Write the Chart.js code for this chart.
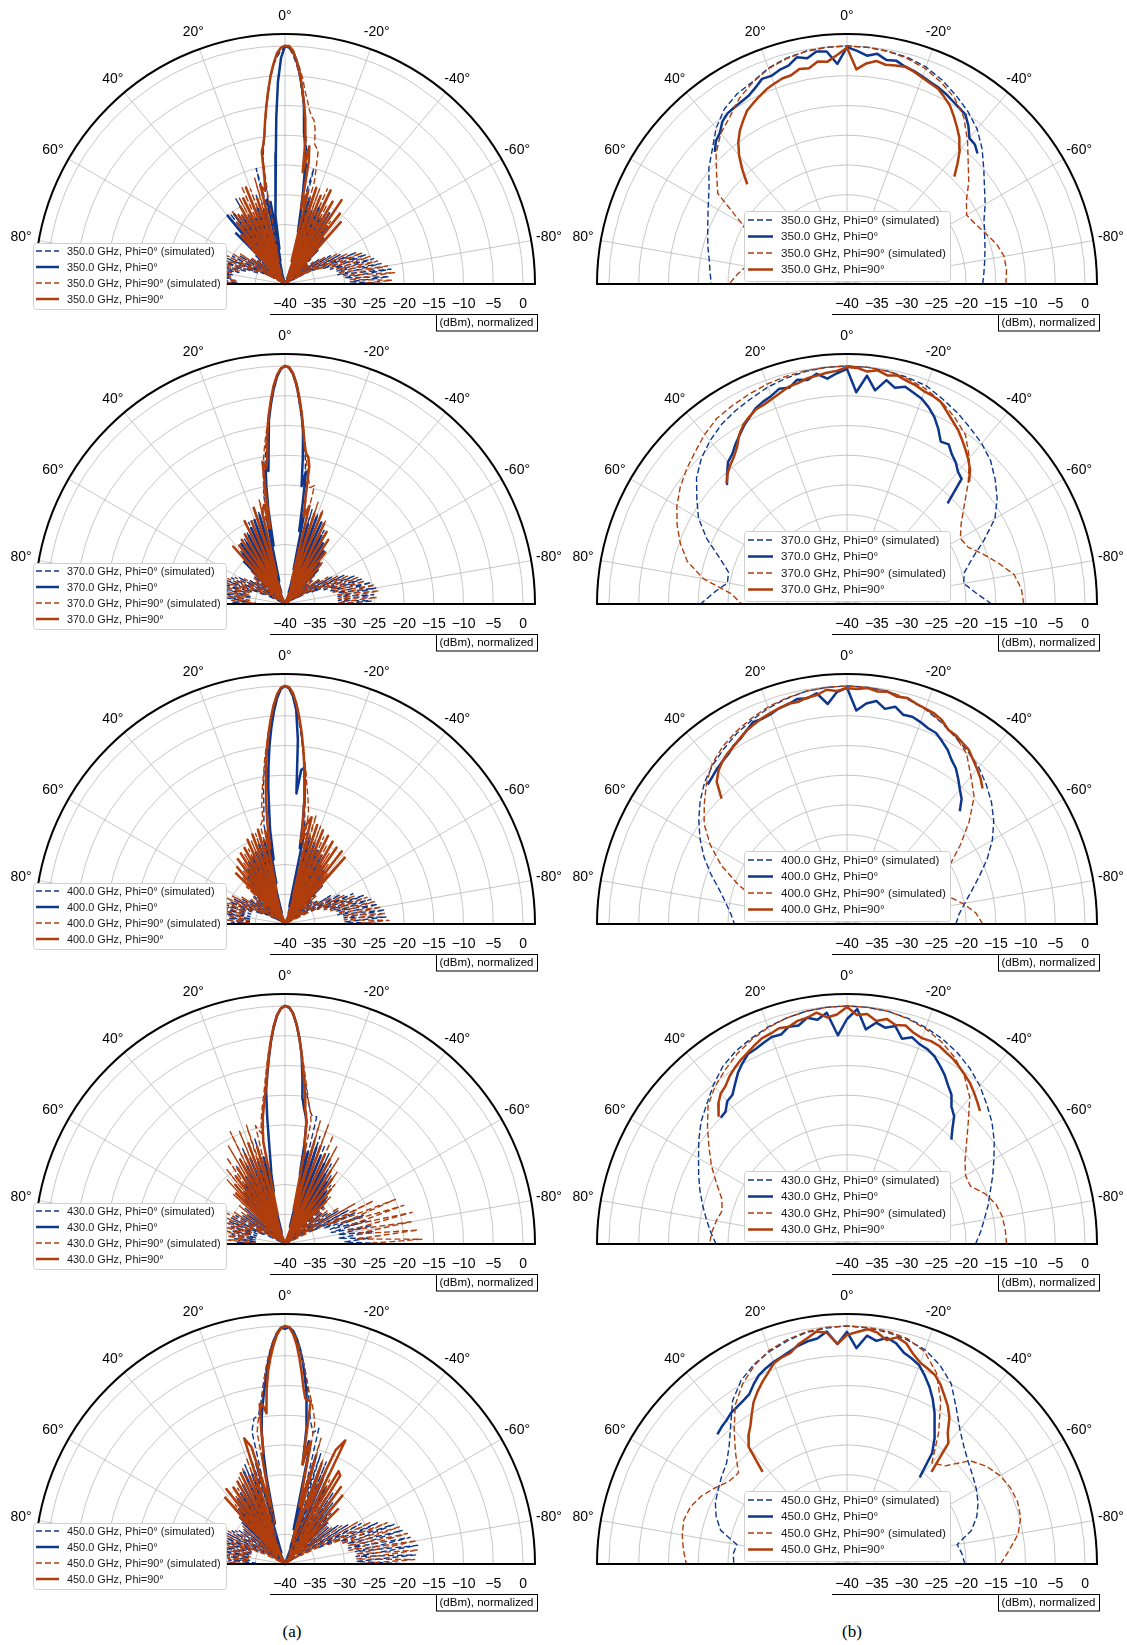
<!DOCTYPE html>
<html>
<head>
<meta charset="utf-8">
<script src="https://cdn.jsdelivr.net/npm/chart.js@4.4.1/dist/chart.umd.min.js"></script>
<style>
  html, body { margin: 0; padding: 0; background: #fff; }
  body { width: 1127px; height: 1645px; position: relative; overflow: hidden; }
  canvas.polar { position: absolute; }
  .cap { position: absolute; font-family: "Liberation Serif", "Times New Roman", serif; font-size: 17px; color: #000; transform: translate(-50%, -50%); }
</style>
</head>
<body>
<div class="cap" style="left:292px;top:1632px">(a)</div>
<div class="cap" style="left:852px;top:1632px">(b)</div>
<script>
// ---------- axes / labels ----------
const FREQS = [350, 370, 400, 430, 450];
const RADIAL_TICKS = [-40, -35, -30, -25, -20, -15, -10, -5, 0];
const RADIAL_TICK_LABELS = ['\u221240', '\u221235', '\u221230', '\u221225', '\u221220', '\u221215', '\u221210', '\u22125', '0'];
const RING_DB = [-35, -30, -25, -20, -15, -10, -5, 0];
const THETA_TICKS = [80, 60, 40, 20, 0, -20, -40, -60, -80];
const THETA_LABELS = ['80°', '60°', '40°', '20°', '0°', '-20°', '-40°', '-60°', '-80°'];
const R_MIN = -40;   // dB at the centre
const R_MAX = 2;     // dB at the outer frame
const AXIS_NAME = '(dBm), normalized';

// ---------- sample angles (deg) ----------
const ANG_L_SIM = [-90,-88,-86,-84,-82,-80,-78,-76,-74,-72,-70,-68,-66,-64,-62,-60,-58,-56,-54,-52,-50,-48,-46,-44,-42,-40,-38,-36,-34,-32,-30,-28,-26,-24,-22,-20,-18,-16,-14,
  -12,-11,-10,-9,-8,-7,-6,-5,-4,-3,-2,-1,0,1,2,3,4,5,6,7,8,9,10,11,12,
  14,16,18,20,22,24,26,28,30,32,34,36,38,40,42,44,46,48,50,52,54,56,58,60,62,64,66,68,70,72,74,76,78,80,82,84,86,88,90];
const ANG_L_MEAS = [-44,-42,-40,-38,-36,-34,-32,-30,-28,-26,-24,-22,-20,-18,-16,-14,
  -12,-11,-10,-9,-8,-7,-6,-5,-4,-3,-2,-1,0,1,2,3,4,5,6,7,8,9,10,11,12,
  14,16,18,20,22,24,26,28,30,32,34,36,38,40,42,44];
const ANG_R_SIM = [-90,-85,-80,-75,-70,-65,-60,-55,-50,-45,-40,-35,-30,-25,-20,-15,-10,-5,0,5,10,15,20,25,30,35,40,45,50,55,60,65,70,75,80,85,90];
const ANG_R_MEAS = [-45,-42.5,-40,-37.5,-35,-32.5,-30,-27.5,-25,-22.5,-20,-17.5,-15,-12.5,-10,-7.5,-5,-2.5,0,2.5,5,7.5,10,12.5,15,17.5,20,22.5,25,27.5,30,32.5,35,37.5,40,42.5,45];

// ---------- (a) patterns, dB ----------
const L350_SIM0 = [-22,-29,-22.5,-30,-22,-31,-23.5,-31,-24.5,-32,-25.5,-33,-27,-35,-29.5,-40,-31,-40,-33,-40,-35,-40,-34,-40,-31,-38,-28,-40,-25.5,-37,-26,-40,-24,-36,-25,-38,-23,-34,-20,
  -27,-22,-19,-17,-15,-12.5,-10,-7.5,-5,-3,-1.5,-0.3,-0.2,-0.8,-1.8,-3.2,-5.3,-7.8,-10.2,-12.8,-15.2,-16.8,-19,-23,-30,
  -20,-33,-24,-38,-24.5,-36,-26,-39,-23.5,-37,-26.5,-40,-25,-38,-30,-40,-33,-40,-34,-40,-33,-40,-31,-40,-30,-36,-29.5,-35,-28,-33,-27,-32,-26.5,-31,-26,-31,-27,-32,-28];
const L350_MEAS0 = [-32,-38,-30,-40,-28,-38,-26,-40,-27.5,-37,-26,-39,-27,-36,-25,-31,
  -27,-24,-21,-18,-16,-14,-9.5,-7,-4.5,-2.5,-1,-0.3,0,-2,-6,-12,-18,-21,-25,-27,-28.5,-34,-26,-36,-25.5,
  -38,-27,-40,-26.5,-38,-28,-36,-27,-40,-26.5,-37,-25.5,-39,-25,-36,-28];
const L350_SIM90 = [-28,-22,-29,-21.5,-30,-22.5,-31,-24,-31,-25,-32,-26,-34,-28.5,-38,-30,-40,-32,-40,-34,-40,-35,-40,-33,-38,-30,-40,-27,-38,-26,-40,-25,-37,-22.5,-38,-23,-36,-22,-17,
  -16,-13.5,-12,-11.5,-10.5,-9,-7.5,-5.5,-3.8,-2.3,-1.2,-0.4,0,-0.5,-1.4,-2.8,-4.8,-7.2,-9.8,-12.3,-14.8,-16.5,-18.5,-25,-33,
  -35,-21.5,-36,-23,-38,-22,-37,-23.5,-40,-26,-38,-25,-40,-29,-40,-32,-40,-34,-40,-33,-40,-31,-40,-30,-38,-29,-35,-28,-33,-27,-32,-26,-31,-26.5,-31,-27,-32,-28,-33];
const L350_MEAS90 = [-37,-26,-40,-25,-37,-23,-40,-24,-36,-22.5,-39,-24,-38,-23,-36,-24,
  -27,-19,-16.5,-21,-15,-12,-9.5,-7,-4.5,-2.5,-0.8,0,0,-0.3,-1.2,-3,-5,-7.5,-10,-12.5,-15,-16.5,-17.5,-22,-24,
  -23,-36,-25,-38,-22.5,-36,-24,-40,-25,-37,-26,-40,-27,-38,-29,-37];

const L370_SIM0 = [-31,-25.5,-31,-25,-31,-24.5,-31,-25,-32,-26.5,-33,-27.5,-35,-29,-38,-31,-40,-33,-40,-35,-40,-34,-40,-32,-38,-31,-40,-29,-38,-28,-40,-26,-36,-25,-40,-24,-37,-23.5,-33,
  -24,-21.5,-20,-18,-15.5,-13,-10.8,-8.5,-6,-3.5,-1.6,-0.4,0,-0.4,-1.6,-3.4,-6,-8.5,-11,-13.5,-16,-18.5,-20,-21,-26,
  -33,-24,-38,-25.5,-36,-25,-40,-26.5,-37,-27,-40,-28,-38,-28.5,-40,-30,-38,-33,-40,-34,-40,-33,-40,-31,-40,-30,-36,-29.5,-34,-29,-33,-30,-34,-29,-33,-30,-34,-31,-34];
const L370_MEAS0 = [-32,-40,-31,-37,-29,-40,-28,-37,-27,-40,-25,-36,-24.5,-38,-26,-34,
  -24,-27.5,-23,-17.5,-20,-15.5,-11,-8,-5.5,-3,-1.3,-0.3,0,-0.5,-1.8,-3.8,-6.3,-9,-13,-17.5,-16.5,-20,-24,-30,-25,
  -36,-24.5,-38,-25,-35,-26,-40,-27,-38,-28,-40,-27.5,-37,-29,-40,-30];
const L370_SIM90 = [-25.5,-31,-24.5,-31,-24,-31,-24.5,-32,-26,-32,-27,-33,-28.5,-35,-30,-38,-31.5,-40,-33,-40,-34,-40,-33,-38,-30.5,-40,-29,-38,-27.5,-40,-26,-37,-24.5,-40,-23,-37,-22,-35,-19.5,
  -20,-19,-18,-16.5,-14.5,-12.5,-10.3,-8,-5.7,-3.4,-1.5,-0.4,0,-0.4,-1.5,-3.3,-5.7,-8.2,-10.5,-12.5,-14.5,-16.5,-19,-22,-27,
  -22,-34,-24.5,-38,-25,-40,-26,-37,-26.5,-40,-27.5,-38,-28,-40,-29.5,-38,-32,-40,-33,-40,-33.5,-40,-32,-38,-30.5,-36,-29.5,-34,-29,-34,-29.5,-34,-30,-34,-30,-34,-31,-35,-32];
const L370_MEAS90 = [-37,-31,-40,-29,-37,-27,-40,-26,-37,-25,-40,-23.5,-37,-24,-36,-23,
  -25,-22,-16.5,-15,-14.5,-13,-10.5,-7.8,-5.3,-3,-1.2,-0.2,0,-0.4,-1.5,-3.3,-5.7,-8.3,-11.5,-15.5,-17,-15.8,-22,-27,-23,
  -24,-35,-23,-38,-25,-37,-24.5,-40,-26.5,-36,-27,-40,-27.5,-38,-27,-37];

const L400_SIM0 = [-22.5,-30,-23,-30,-23,-31,-24,-31,-25,-32,-26,-33,-27.5,-35,-29.5,-38,-31,-40,-33.5,-40,-34,-40,-33,-40,-31.5,-37,-30,-40,-29,-38,-28,-40,-27,-37,-26,-40,-25,-36,-24,
  -25,-22.5,-21,-18.5,-16,-13.5,-11,-8.5,-6,-3.6,-1.7,-0.4,0,-0.4,-1.7,-3.5,-5.8,-8.2,-10.6,-12.8,-14.6,-16.8,-19.5,-21.4,-23,
  -34,-24.5,-38,-26,-36,-26.5,-40,-27,-37,-28,-40,-29,-38,-30,-40,-31,-38,-33,-40,-34,-40,-33,-40,-31.5,-38,-30.5,-36,-30,-34,-29.5,-34,-29.5,-34,-30,-34,-30.5,-34,-31,-35];
const L400_MEAS0 = [-31,-40,-30,-38,-29,-40,-28.5,-37,-27,-40,-26.5,-36,-25.5,-38,-25,-37,
  -24.5,-27,-23,-19.5,-16,-13.5,-14,-18,-9,-4,-1.7,-0.4,0,-0.5,-2,-4.3,-7,-10,-13.5,-17,-21,-24,-29,-26,-33,
  -25.5,-38,-26,-36,-27,-40,-27.5,-37,-28,-40,-29,-38,-30,-40,-31,-38];
const L400_SIM90 = [-29,-22.5,-30,-23,-30,-23.5,-31,-24.5,-32,-25.5,-33,-27.5,-34,-29,-40,-31,-38,-33,-40,-34,-40,-33,-40,-31,-38,-29,-40,-27.5,-38,-26,-40,-25,-37,-24,-40,-22.5,-38,-21,-30,
  -21,-19.5,-18,-16.5,-14.5,-12.5,-10.3,-8,-5.6,-3.3,-1.5,-0.4,0,-0.4,-1.5,-3.3,-5.5,-7.8,-10,-12,-14.3,-16,-17.8,-19.5,-22,
  -23,-36,-24,-38,-25,-40,-26,-37,-26.5,-40,-27.5,-38,-28.5,-40,-29.5,-37,-31,-40,-33,-40,-33,-40,-31.5,-38,-30,-36,-29,-34,-28.5,-33,-28.5,-33,-29,-33,-29.5,-34,-30,-34,-31];
const L400_MEAS90 = [-36,-25,-37,-24.5,-40,-24.5,-37,-24,-40,-23.5,-35,-23,-38,-22.5,-35,-21.5,
  -23,-26,-22.5,-19.5,-16.5,-13.5,-10.5,-7.8,-5.3,-3,-1.2,-0.2,0,-0.3,-1.4,-3.2,-5.5,-8,-10.8,-13.8,-17,-20,-23,-27,-24,
  -34,-23.5,-37,-24,-40,-24.5,-36,-25.5,-40,-26,-37,-26.5,-40,-27.5,-37,-28];

const L430_SIM0 = [-22.5,-30,-26,-31,-25,-31,-25,-32,-25.5,-32,-26,-33,-27,-35,-28,-40,-29.5,-38,-31,-40,-32,-40,-31,-38,-29,-40,-27.5,-37,-26,-40,-24.5,-36,-23,-40,-22,-37,-21,-34,-18,
  -18,-17.5,-16.5,-15.5,-14,-12.3,-10.3,-8,-5.6,-3.3,-1.5,-0.4,-0.1,-0.5,-1.7,-3.6,-6,-8.5,-11,-13.5,-15.5,-17,-18.5,-20,-22,
  -33,-21.5,-37,-22,-40,-22.5,-36,-23.5,-40,-24.5,-37,-25.5,-40,-27,-38,-29,-40,-31,-38,-32,-40,-31.5,-38,-30.5,-40,-30,-36,-30,-35,-30.5,-35,-31,-35,-31,-35,-31.5,-35,-32,-35];
const L430_MEAS0 = [-37,-30,-40,-29,-38,-27.5,-40,-26.5,-37,-25,-40,-24,-35,-23,-37,-24,
  -28,-23,-19.1,-18,-17,-15.5,-12,-8,-5.3,-3,-1.2,-0.2,0,-0.4,-1.6,-3.6,-6,-8.8,-11.5,-14,-18.5,-23,-26,-28,-31,
  -25,-38,-25.5,-36,-24.5,-40,-25.5,-37,-27,-40,-28,-37,-29,-40,-30,-38];
const L430_SIM90 = [-27,-17,-28,-17.5,-28,-18.5,-29,-18,-29,-19,-30,-20,-32,-23.5,-40,-26.5,-37,-29,-40,-31,-38,-31,-40,-29,-37,-27,-40,-25,-37,-23,-40,-21.5,-36,-20,-38,-18.7,-35,-18.5,-33,
  -19,-17.5,-16.5,-15.2,-13.6,-11.8,-9.8,-7.6,-5.3,-3.1,-1.4,-0.3,0,-0.4,-1.5,-3.2,-5.4,-7.8,-10.2,-12.5,-14.5,-16,-17.5,-19,-21,
  -19.5,-33,-19,-36,-19.5,-38,-19,-36,-21,-40,-22.5,-37,-24,-40,-25.5,-38,-28,-40,-30,-38,-31,-40,-30,-38,-29,-36,-29,-34,-28.5,-34,-29,-34,-29,-34,-29.5,-34,-30,-35,-31];
const L430_MEAS90 = [-30,-37,-28,-40,-26.5,-37,-25.5,-40,-24,-36,-23.5,-40,-22.5,-37,-22,-34,
  -24.5,-22.5,-19.5,-17.5,-15.5,-13.3,-10.8,-8,-5.3,-3,-1.2,-0.2,0,-0.4,-1.5,-3.4,-5.8,-8.5,-11.2,-13.5,-15.5,-17,-18.5,-20.5,-22.5,
  -35,-23,-37,-22,-40,-23.5,-36,-24,-40,-25,-37,-26,-40,-27,-37,-28];

const L450_SIM0 = [-19,-28,-18,-28,-17.5,-28,-18.5,-29,-19.5,-29,-20.5,-30,-23,-34,-25.5,-36,-27.5,-40,-29,-37,-30.5,-40,-30,-37,-28.5,-40,-27,-37,-25.5,-40,-24,-37,-23,-40,-21.5,-36,-20.5,-31,-16.5,
  -17.5,-16.5,-15.5,-13.5,-11.5,-9.5,-7.5,-5.5,-3.8,-2.2,-1,-0.3,-0.1,-0.3,-1.1,-2.4,-4,-5.8,-7.8,-9.8,-11.8,-13.3,-14.5,-14.8,-15,
  -17,-30,-21,-36,-22,-40,-23.5,-37,-24.5,-40,-25.5,-36,-26.5,-40,-28,-37,-30,-40,-31,-38,-30.5,-40,-29.5,-37,-29,-36,-28.5,-34,-28.5,-34,-29,-34,-29.5,-34,-30,-34,-30.5,-35,-31];
const L450_MEAS0 = [-30,-37,-29,-40,-28,-37,-27,-40,-25.5,-36,-24.5,-40,-23.5,-37,-21,-34,
  -21.5,-19,-23,-17,-13.5,-11,-8.3,-5.8,-3.8,-2.1,-0.8,-0.2,-0.5,-0.3,-1.2,-2.6,-4.4,-6.5,-8.8,-11,-13,-15,-17.5,-21,-25,
  -33,-22.5,-38,-24,-36,-23,-40,-25,-37,-26,-40,-26.5,-38,-28,-40,-29];
const L450_SIM90 = [-28,-18.2,-28,-17.5,-28,-17.5,-29,-18.8,-29,-19.8,-30,-21.5,-32,-24,-37,-26,-40,-28.5,-37,-30,-40,-30.5,-38,-29.5,-40,-28,-37,-26.5,-40,-25,-37,-24,-40,-23,-38,-21.5,-35,-18,-30,
  -16,-14.5,-13.2,-12,-10.8,-9.2,-7.4,-5.6,-3.8,-2.2,-1,-0.3,0,-0.3,-1.1,-2.4,-4.1,-6,-8,-10,-12,-13.5,-14.8,-16,-17.5,
  -33,-20,-35,-21,-38,-22.5,-36,-23.5,-40,-25,-37,-26,-40,-27,-38,-29,-40,-30.5,-38,-31,-40,-30,-37,-29,-40,-28.5,-35,-28.5,-34,-28.5,-34,-29,-34,-29,-34,-29.5,-34,-30,-34];
const L450_MEAS90 = [-27,-37,-25,-40,-24,-37,-22.5,-22,-34,-16.9,-19,-30,-22,-36,-22,-30,
  -19,-20,-23,-12.4,-12.2,-12,-10.3,-7.8,-5.3,-3,-1.3,-0.2,0,-0.4,-1.5,-3.2,-5.2,-7.5,-10.5,-14.5,-13,-12.8,-17,-21,-21,
  -30,-19.5,-17.8,-34,-24,-37,-23,-40,-24,-37,-24.5,-38,-24,-38,-25,-36];

// ---------- (b) patterns, dB ----------
const R350_SIM0 = [-17.2,-16.9,-16.5,-16.0,-15.4,-14.6,-13.2,-11.8,-10.0,-7.9,-6.0,-4.6,-3.4,-2.2,-1.2,-0.6,-0.3,-0.1,0,-0.1,-0.3,-0.7,-1.4,-2.5,-3.1,-4.1,-5.8,-8.0,-9.7,-11.7,-13.1,-14.2,-15.1,-15.8,-16.5,-16.9,-17.2];
const R350_MEAS0 = [-9,-8.2,-8,-6.5,-5.3,-4.9,-4.5,-4.0,-3.6,-3.3,-2.9,-2.5,-2.2,-1.6,-1.8,-1.0,-1.5,-0.8,-0.2,-3.0,-0.8,-0.6,-1.5,-1.0,-2.0,-2.3,-2.8,-2.7,-3.6,-4.3,-4.6,-4.8,-5.0,-5.6,-6.8,-7.4,-8.6];
const R350_SIM90 = [-13.3,-13.1,-13.2,-14.0,-15.2,-16.2,-16.8,-15.5,-13.3,-11.2,-8.5,-5.8,-3.9,-2.6,-1.5,-0.8,-0.3,-0.1,0,-0.1,-0.3,-0.8,-1.5,-2.6,-3.9,-5.7,-7.0,-8.9,-11.4,-13.5,-19.5,-22.5,-23.5,-23.5,-22.8,-21.5,-20.2];
const R350_MEAS90 = [-14.5,-12.5,-10.5,-9,-7.8,-6.6,-5.4,-4.6,-3.8,-3.5,-3.1,-2.6,-2.2,-2.4,-2.6,-2.2,-2.8,-3.9,-0.3,-1.5,-2.5,-2.3,-3.2,-3.0,-3.7,-3.8,-4.2,-4.6,-5.2,-5.8,-6.4,-7.5,-8.6,-10.0,-11.8,-14.0,-16.3];

const R370_SIM0 = [-15.7,-18.3,-20.1,-19.6,-17.6,-14.6,-11.3,-9.2,-7.5,-5.9,-4.8,-3.9,-2.9,-2.0,-1.0,-0.6,-0.3,-0.1,0,-0.1,-0.3,-0.7,-1.2,-1.9,-2.5,-3.2,-4.2,-5.4,-7.0,-9.2,-11.2,-14.0,-17.2,-19.4,-19.6,-17.6,-15.4];
const R370_MEAS0 = [-16.1,-11.5,-11.0,-10.0,-9.3,-8.2,-8.5,-6.8,-5.3,-4.2,-3.3,-2.8,-2.2,-2.8,-1.8,-3.8,-1.5,-4.4,-0.5,-1.2,-2.0,-1.0,-1.8,-1.4,-2.4,-2.1,-2.8,-3.2,-3.7,-4.6,-5.4,-6.4,-7.3,-8.3,-8.9,-10.2,-11.5];
const R370_SIM90 = [-10.3,-10.6,-11.5,-13.6,-15.6,-17.5,-18.0,-16.6,-14.3,-11.2,-8.0,-5.3,-3.8,-2.5,-1.5,-0.8,-0.3,-0.1,0,-0.1,-0.2,-0.4,-0.7,-1.1,-1.5,-1.9,-2.8,-3.9,-4.8,-5.8,-7.0,-8.5,-10.2,-12.2,-15.5,-20.5,-22.3];
const R370_MEAS90 = [-11.0,-9.4,-8.3,-7.3,-6.3,-5.3,-4.5,-3.6,-2.6,-2.2,-2.0,-1.5,-1.2,-0.7,-1.0,-0.4,-0.8,-0.3,-0.2,-0.8,-1.0,-1.3,-1.5,-2.0,-2.2,-2.8,-3.3,-3.7,-3.9,-4.5,-5.2,-6.3,-7.8,-8.8,-9.5,-10.3,-11.4];

const R400_SIM0 = [-21.7,-21.1,-19.9,-18.3,-16.3,-14.0,-11.8,-9.9,-8.3,-6.9,-5.6,-4.6,-3.7,-2.6,-1.6,-0.9,-0.3,-0.1,0,-0.1,-0.3,-0.8,-1.4,-2.2,-3.0,-4.0,-5.0,-6.2,-7.8,-9.6,-11.5,-13.5,-15.7,-17.8,-19.3,-20.4,-21.1];
const R400_MEAS0 = [-13.2,-11.5,-10.5,-9.3,-8.1,-7.3,-6.2,-5.4,-4.6,-4.4,-3.9,-3.5,-3.6,-2.6,-3.3,-2.2,-2.8,-4.1,-0.3,-1.0,-2.9,-0.9,-1.5,-1.3,-1.8,-2.0,-2.5,-2.7,-2.6,-3.4,-4.1,-4.5,-5.2,-5.6,-6.0,-6.5,-6.9];
const R400_SIM90 = [-17.2,-18.3,-20.2,-22.3,-23,-22,-20,-16.7,-13.2,-9.8,-7.6,-5.0,-3.6,-2.5,-1.5,-0.8,-0.3,-0.1,0,-0.1,-0.3,-0.7,-1.2,-1.9,-2.7,-3.6,-4.8,-6.6,-8.7,-10.7,-13.5,-16.7,-20.5,-24.2,-27.0,-29.4,-30.7];
const R400_MEAS90 = [-7.8,-6.8,-6.0,-5.2,-4.3,-3.9,-3.4,-3.2,-2.2,-1.7,-1.5,-1.2,-0.7,-0.9,-0.4,-0.6,-0.2,-0.5,-0.4,-0.8,-0.5,-1.2,-1.4,-1.8,-1.7,-2.0,-2.3,-2.6,-3.0,-3.4,-4.0,-4.6,-5.0,-5.6,-6.4,-7.6,-10.2];

const R430_SIM0 = [-18.4,-17.5,-16.6,-15.5,-14.4,-13.0,-11.5,-9.8,-8.2,-6.8,-5.3,-4.0,-2.9,-2.0,-1.3,-0.7,-0.3,-0.1,0,-0.1,-0.3,-0.7,-1.2,-1.9,-2.6,-3.6,-5.1,-6.7,-8.0,-9.6,-11.2,-12.5,-13.7,-14.9,-16.0,-17.0,-18.0];
const R430_MEAS0 = [-15.2,-13.8,-12.0,-11.1,-9.4,-8.4,-7.2,-6.2,-5.2,-4.6,-4.3,-3.6,-4.3,-2.5,-3.1,-2.5,-3.8,-0.5,-2.2,-4.9,-1.0,-2.0,-1.4,-2.4,-2.2,-3.1,-3.0,-3.4,-3.8,-4.0,-4.9,-5.9,-7.2,-8.4,-8.7,-9.8,-10.0];
const R430_SIM90 = [-13.2,-13.3,-13.5,-14.1,-15.3,-17.1,-17.0,-15.8,-13.8,-11.2,-7.9,-5.6,-3.8,-2.5,-1.5,-0.8,-0.3,-0.1,0,-0.1,-0.3,-0.7,-1.3,-2.1,-3.1,-4.3,-5.5,-7.0,-9.4,-11.7,-13.7,-15.8,-17.6,-18.3,-17.7,-17.2,-16.9];
const R430_MEAS90 = [-8.4,-7.6,-6.8,-6.0,-5.4,-4.8,-4.2,-3.8,-3.3,-3.1,-3.2,-2.8,-2.0,-2.3,-1.6,-2.2,-1.2,-1.5,-0.2,-1.4,-1.8,-0.8,-1.4,-1.6,-2.2,-2.0,-2.4,-2.6,-3.2,-3.8,-4.3,-4.9,-5.6,-6.5,-7.0,-8.0,-9.5];

const R450_SIM0 = [-20.2,-20.6,-21.2,-18.4,-16.8,-15.7,-14.9,-14.2,-13.4,-12.2,-10.5,-8.0,-5.0,-3.1,-1.7,-1.0,-0.5,-0.2,0,-0.2,-0.5,-1.2,-2.0,-3.0,-4.4,-6.5,-9.6,-12.0,-13.6,-14.3,-15.0,-15.6,-16.6,-18.0,-21.2,-20.8,-21.0];
const R450_MEAS0 = [null,null,-21.0,-16.5,-14.4,-12.5,-10.7,-8.8,-7.2,-5.8,-4.5,-3.8,-3.2,-2.0,-1.4,-2.2,-1.5,-3.7,-1.0,-3.0,-0.8,-1.8,-2.0,-2.4,-3.0,-3.5,-3.9,-4.4,-5.0,-6.0,-7.1,-7.5,-7.8,-8.0,-8.5,-8.8,-9.2];
const R450_SIM90 = [-14.2,-12.6,-10.8,-9.8,-9.5,-9.7,-10.3,-11.4,-13.0,-16.7,-17.8,-13.2,-8.5,-4.5,-2.0,-0.8,-0.3,-0.1,0,-0.1,-0.4,-1.0,-1.8,-3.2,-5.0,-7.3,-10.5,-13.5,-16.2,-15.8,-14.4,-13.0,-12.0,-11.6,-11.9,-12.4,-13.0];
const R450_MEAS90 = [null,-19.0,-13.5,-12.2,-10.0,-8.5,-7.3,-6.0,-5.0,-4.5,-4.0,-3.0,-1.6,-1.0,-1.8,-0.8,-0.4,-1.0,-1.5,-3.0,-1.0,-0.6,-1.5,-2.2,-3.3,-3.6,-4.1,-5.3,-6.3,-7.4,-8.6,-10.2,-11.7,-12.8,-14.3,-19.0,null];

// ---------- styling ----------
const BLUE = '#0c378c';
const ORANGE = '#b03d0c';
const FONT = '"Liberation Sans", Arial, Helvetica, sans-serif';

const COLUMNS = {
  L: {
    left: 0, angSim: ANG_L_SIM, angMeas: ANG_L_MEAS,
    legend: { x: 33, y: 243, w: 193, h: 66, font: '10.9px ' + FONT, rowH: 16, row0: 8, lx0: 3, lx1: 26, tx: 34 }
  },
  R: {
    left: 562, angSim: ANG_R_SIM, angMeas: ANG_R_MEAS,
    legend: { x: 182, y: 211, w: 206, h: 70, font: '11.7px ' + FONT, rowH: 16.5, row0: 9, lx0: 4, lx1: 29, tx: 37 }
  }
};

const SERIES = {
  L: [[L350_SIM0, L350_MEAS0, L350_SIM90, L350_MEAS90], [L370_SIM0, L370_MEAS0, L370_SIM90, L370_MEAS90],
      [L400_SIM0, L400_MEAS0, L400_SIM90, L400_MEAS90], [L430_SIM0, L430_MEAS0, L430_SIM90, L430_MEAS90],
      [L450_SIM0, L450_MEAS0, L450_SIM90, L450_MEAS90]],
  R: [[R350_SIM0, R350_MEAS0, R350_SIM90, R350_MEAS90], [R370_SIM0, R370_MEAS0, R370_SIM90, R370_MEAS90],
      [R400_SIM0, R400_MEAS0, R400_SIM90, R400_MEAS90], [R430_SIM0, R430_MEAS0, R430_SIM90, R430_MEAS90],
      [R450_SIM0, R450_MEAS0, R450_SIM90, R450_MEAS90]]
};

// polar (angle, dB) -> plane coordinates in "dB above floor" units
function toXY(angles, values, name) {
  if (angles.length !== values.length) throw new Error(name + ': ' + values.length + ' values for ' + angles.length + ' angles');
  const pts = [];
  for (let i = 0; i < angles.length; i++) {
    const v = values[i];
    if (v === null) continue;
    const r = Math.min(R_MAX - R_MIN, Math.max(0, v - R_MIN));
    const t = angles[i] * Math.PI / 180;
    pts.push({ x: -r * Math.sin(t), y: r * Math.cos(t) });
  }
  return pts;
}

function geom(chart) {
  const xs = chart.scales.x, ys = chart.scales.y;
  const cx = xs.getPixelForValue(0), cy = ys.getPixelForValue(0);
  return {
    cx, cy,
    R: xs.getPixelForValue(R_MAX - R_MIN) - cx,
    rad: db => xs.getPixelForValue(db - R_MIN) - cx
  };
}

// half-polar frame: rings, spokes, outer arc, labels, radial axis and legend
const polarFrame = {
  id: 'polarFrame',
  beforeDatasetsDraw(chart) {
    const ctx = chart.ctx, g = geom(chart);
    ctx.save();
    ctx.strokeStyle = '#b9b9b9';
    ctx.lineWidth = 0.8;
    RING_DB.forEach(db => {
      ctx.beginPath();
      ctx.arc(g.cx, g.cy, g.rad(db), Math.PI, 2 * Math.PI);
      ctx.stroke();
    });
    THETA_TICKS.forEach(a => {
      const t = a * Math.PI / 180;
      ctx.beginPath();
      ctx.moveTo(g.cx, g.cy);
      ctx.lineTo(g.cx - g.R * Math.sin(t), g.cy - g.R * Math.cos(t));
      ctx.stroke();
    });
    ctx.restore();
  },
  afterDatasetsDraw(chart, args, opts) {
    const ctx = chart.ctx, g = geom(chart);
    ctx.save();
    // frame
    ctx.strokeStyle = '#000';
    ctx.lineWidth = 2;
    ctx.beginPath();
    ctx.arc(g.cx, g.cy, g.R, Math.PI, 2 * Math.PI);
    ctx.stroke();
    ctx.beginPath();
    ctx.moveTo(g.cx - g.R - 1, g.cy);
    ctx.lineTo(g.cx + g.R + 1, g.cy);
    ctx.stroke();

    // angle labels
    ctx.fillStyle = '#000';
    ctx.font = '14px ' + FONT;
    ctx.textAlign = 'center';
    ctx.textBaseline = 'middle';
    THETA_TICKS.forEach((a, i) => {
      const t = a * Math.PI / 180, rr = g.R + 18;
      ctx.fillText(THETA_LABELS[i], g.cx - rr * Math.sin(t), g.cy - rr * Math.cos(t));
    });

    // radial axis below the frame
    RADIAL_TICKS.forEach((v, i) => {
      ctx.fillText(RADIAL_TICK_LABELS[i], g.cx + g.rad(v), g.cy + 20);
    });
    const yLine = g.cy + 30.5;
    const xr = g.cx + g.R + 2;
    ctx.lineWidth = 1;
    ctx.beginPath();
    ctx.moveTo(g.cx - 15, yLine);
    ctx.lineTo(xr, yLine);
    ctx.stroke();
    ctx.strokeRect(Math.round(xr - 101) + 0.5, yLine, 101, 16.5);
    ctx.font = '11.5px ' + FONT;
    ctx.fillText(AXIS_NAME, xr - 50.5, yLine + 8.8);

    // legend
    const lg = opts.legend;
    ctx.beginPath();
    ctx.roundRect(lg.x + 0.5, lg.y + 0.5, lg.w, lg.h, 3);
    ctx.fillStyle = '#ffffff';
    ctx.fill();
    ctx.strokeStyle = '#cfcfcf';
    ctx.lineWidth = 1;
    ctx.stroke();
    chart.data.datasets.forEach((ds, i) => {
      const y = lg.y + lg.row0 + i * lg.rowH;
      ctx.save();
      ctx.strokeStyle = ds.borderColor;
      ctx.lineWidth = ds.borderWidth;
      ctx.setLineDash(ds.borderDash || []);
      ctx.beginPath();
      ctx.moveTo(lg.x + lg.lx0, y);
      ctx.lineTo(lg.x + lg.lx1, y);
      ctx.stroke();
      ctx.restore();
      ctx.fillStyle = '#1a1a1a';
      ctx.font = lg.font;
      ctx.textAlign = 'left';
      ctx.textBaseline = 'middle';
      ctx.fillText(ds.label, lg.x + lg.tx, y + 0.5);
    });
    ctx.restore();
  }
};

function makeDataset(label, pts, color, simulated, order) {
  return {
    label, data: pts, showLine: true, order,
    borderColor: color, backgroundColor: color,
    borderWidth: simulated ? 1.4 : 2.5,
    borderDash: simulated ? [6, 3] : [],
    borderJoinStyle: 'round', borderCapStyle: 'butt',
    pointRadius: 0, pointHoverRadius: 0, tension: 0, clip: 8
  };
}

['L', 'R'].forEach(side => {
  const col = COLUMNS[side];
  FREQS.forEach((f, row) => {
    const [sim0, meas0, sim90, meas90] = SERIES[side][row];
    const tag = side + f;
    const canvas = document.createElement('canvas');
    canvas.className = 'polar';
    canvas.width = 585;
    canvas.height = 335;
    canvas.style.left = col.left + 'px';
    canvas.style.top = (row * 320) + 'px';
    document.body.appendChild(canvas);
    const name = f.toFixed(1) + ' GHz';
    new Chart(canvas, {
      type: 'scatter',
      data: {
        datasets: [
          makeDataset(name + ', Phi=0° (simulated)', toXY(col.angSim, sim0, tag + ' sim0'), BLUE, true, 4),
          makeDataset(name + ', Phi=0°', toXY(col.angMeas, meas0, tag + ' meas0'), BLUE, false, 3),
          makeDataset(name + ', Phi=90° (simulated)', toXY(col.angSim, sim90, tag + ' sim90'), ORANGE, true, 2),
          makeDataset(name + ', Phi=90°', toXY(col.angMeas, meas90, tag + ' meas90'), ORANGE, false, 1)
        ]
      },
      options: {
        responsive: false, animation: false, devicePixelRatio: 1, events: [],
        layout: { padding: { left: 35, right: 50, top: 34, bottom: 51 } },
        scales: {
          x: { type: 'linear', min: -(R_MAX - R_MIN), max: R_MAX - R_MIN, display: false },
          y: { type: 'linear', min: 0, max: R_MAX - R_MIN, display: false }
        },
        plugins: {
          legend: { display: false },
          tooltip: { enabled: false },
          polarFrame: { legend: col.legend }
        }
      },
      plugins: [polarFrame]
    });
  });
});
</script>
</body>
</html>
